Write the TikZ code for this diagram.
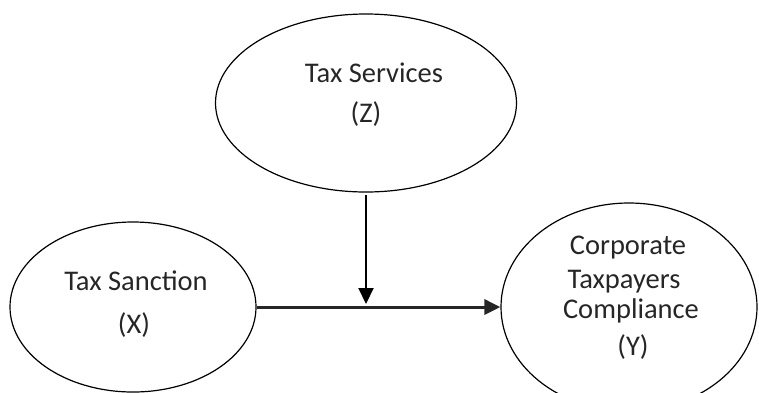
\documentclass[tikz,border=0pt]{standalone}
\usepackage{fontspec}
\setmainfont{Carlito}
\usetikzlibrary{shapes.geometric,arrows.meta}
\begin{document}
\begin{tikzpicture}[x=1pt,y=-1pt,
  oval/.style={draw=black,ellipse,line width=1.2pt,inner sep=0pt},
  lbl/.style={anchor=base,inner sep=0pt,font=\fontsize{28.5}{34}\selectfont,text=black!85},
  arr/.style={-{Triangle[length=16pt,width=15pt]}}]
\useasboundingbox (0,0) rectangle (759,392);
\node[oval,minimum width=301pt,minimum height=178pt] (z) at (366,103) {};
\node[oval,minimum width=246pt,minimum height=170pt] (x) at (133,307) {};
\node[oval,minimum width=256pt,minimum height=208pt] (y) at (629,307) {};
\node[lbl] (zt1) at (374,82) {Tax Services};
\node[lbl] (zt2) at (366,122) {(Z)};
\node[lbl] (xt1) at (136,290) {Tax Sanction};
\node[lbl] (xt2) at (134,333) {(X)};
\node[lbl] (yt1) at (628,254) {Corporate};
\node[lbl] (yt2) at (624,288) {Taxpayers};
\node[lbl] (yt3) at (631,318) {Compliance};
\node[lbl] (yt4) at (633,355) {(Y)};
\coordinate (m) at (z.south |- x.east);
\draw[arr,line width=3pt,draw=black!85] (x.east) -- (y.west);
\draw[arr,line width=2pt,shorten <=2pt,shorten >=3pt] (z.south) -- (m);
\end{tikzpicture}
\end{document}
